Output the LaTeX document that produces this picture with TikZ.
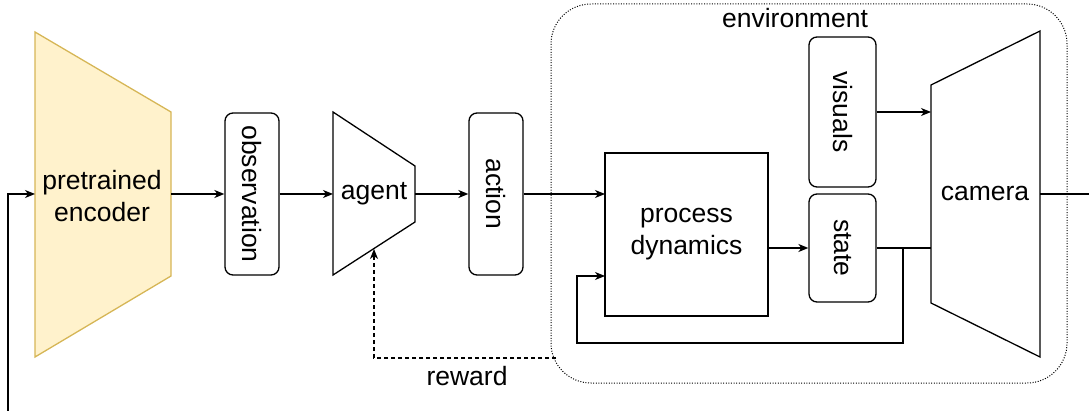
\documentclass[tikz,border=0pt]{standalone}
\usepackage{fontspec}
\setmainfont{Liberation Sans}
\usetikzlibrary{arrows.meta}
\begin{document}
\begin{tikzpicture}[x=1pt,y=-1pt,
  line width=1.3pt,
  lbl/.style={font=\fontsize{26.5}{32}\selectfont, align=center, inner sep=0pt},
  rbox/.style={draw, rounded corners=8pt, inner sep=0pt},
  sbox/.style={draw, inner sep=0pt},
  arr/.style={-{Stealth[length=10pt,width=8pt,inset=3pt]}},
  envline/.style={dash pattern=on 1pt off 1.6pt, line width=1pt, rounded corners=40pt},
]
\useasboundingbox (0,0) rectangle (1089,411);
\definecolor{encfill}{HTML}{FFF2CC}
\definecolor{encdraw}{HTML}{D6B656}

% environment frame
\draw[envline] (551,4) rectangle (1067,383);
\node[lbl] (envlbl) at (795,18) {environment};

% pretrained encoder (trapezoid)
\draw[fill=encfill, draw=encdraw] (35,32) -- (171,112) -- (171,276) -- (35,357) -- cycle;
\coordinate (encW) at (35,194);
\coordinate (encE) at (171,194);
\node[lbl] (enc) at (102,196) {pretrained\\encoder};

% observation
\node[rbox, minimum width=54pt, minimum height=162pt] (obs) at (252,194) {};
\node[lbl, rotate=-90] (obsl) at (obs.center) {observation};

% agent (trapezoid)
\draw (333,112) -- (415,166) -- (415,222) -- (333,275) -- cycle;
\coordinate (agW) at (333,194);
\coordinate (agE) at (415,194);
\coordinate (agB) at (374,249);
\node[lbl] (agent) at (374,194) {agent};

% action
\node[rbox, minimum width=54pt, minimum height=162pt] (act) at (496,194) {};
\node[lbl, rotate=-90] (actl) at (act.center) {action};

% process dynamics
\node[sbox, minimum width=163pt, minimum height=163pt] (pd) at (686.5,234.5) {};
\node[lbl] (pdl) at (pd.center) {process\\dynamics};
\coordinate (pdIn1) at (605,194);
\coordinate (pdIn2) at (605,276);

% state and visuals
\node[rbox, minimum width=67pt, minimum height=108pt] (st) at (842.5,248) {};
\node[lbl, rotate=-90] (stl) at (st.center) {state};
\node[rbox, minimum width=67pt, minimum height=150pt] (vis) at (842.5,112) {};
\node[lbl, rotate=-90] (visl) at (vis.center) {visuals};

% camera (trapezoid)
\draw (931,85) -- (1040,31) -- (1040,357) -- (931,303) -- cycle;
\coordinate (camVis) at (931,112);
\coordinate (camSt) at (931,248);
\coordinate (camE) at (1040,194);
\node[lbl] (cam) at (985,194) {camera};

% free ends and loop corners
\coordinate (inBot) at (8,411);
\coordinate (outR) at (1089,194);
\coordinate (split) at (903,248);
\coordinate (loopBR) at (903,343);
\coordinate (loopBL) at (577,343);
\coordinate (rwStart) at (556,358);
\coordinate (rwCorner) at (374,358);

% connectors
\draw[arr] (inBot) |- (encW);
\draw[arr] (encE) -- (obs.west);
\draw[arr] (obs.east) -- (agW);
\draw[arr] (agE) -- (act.west);
\draw[arr] (act.east) -- (pdIn1);
\draw[arr] (pd.east |- st.west) -- (st.west);
\draw (st.east) -- (camSt);
\draw[arr] (split) -- (loopBR) -- (loopBL) |- (pdIn2);
\draw[arr] (vis.east) -- (camVis);
\draw (camE) -- (outR);
\draw[arr, dashed, dash pattern=on 4pt off 3pt] (rwStart) -- (rwCorner) -- (agB);
\node[lbl] (rw) at (467,376) {reward};
\end{tikzpicture}
\end{document}
